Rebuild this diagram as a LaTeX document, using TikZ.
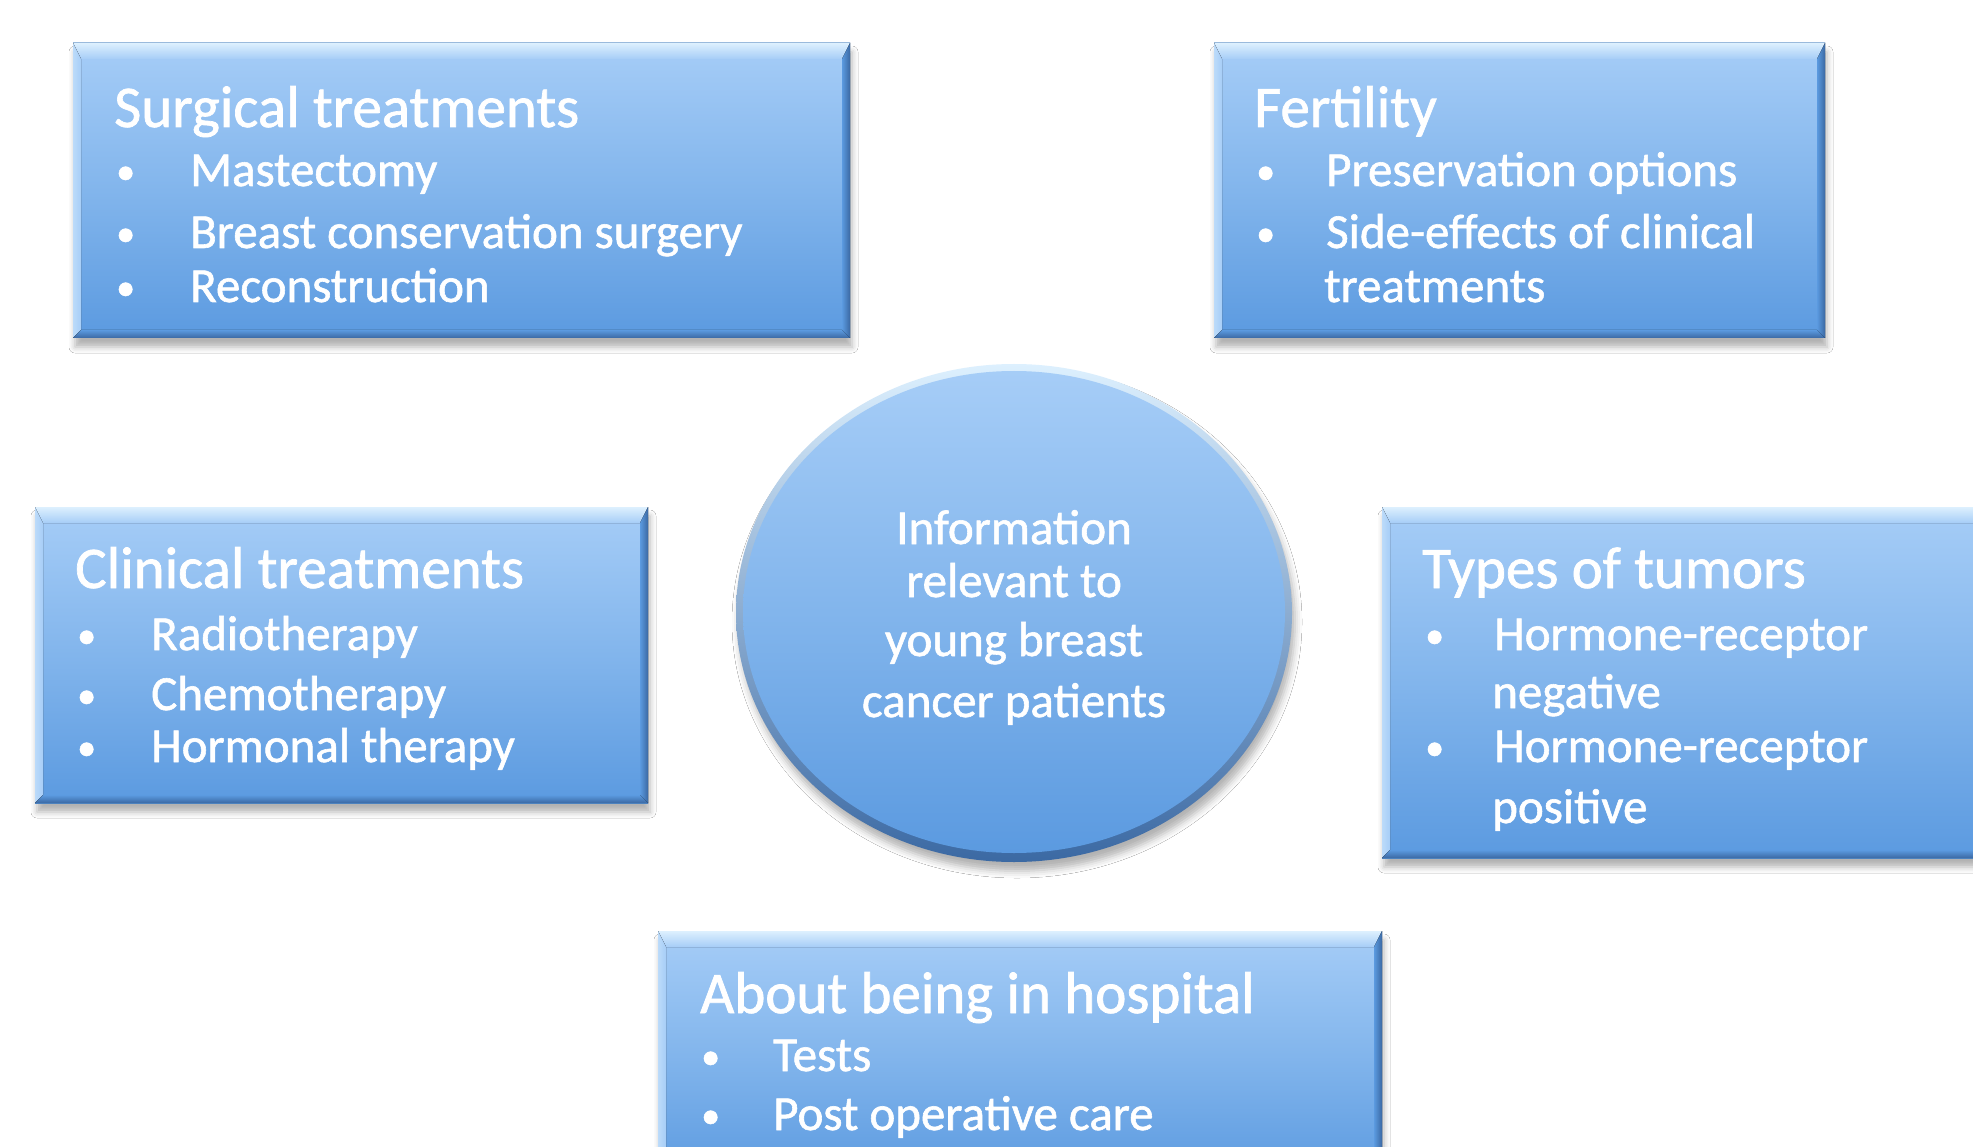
\documentclass[tikz,border=0pt]{standalone}
\usepackage{fontspec}
\setmainfont{Carlito}
\newfontfamily\pfont{Carlito}[FakeBold=1.2]
\usetikzlibrary{shapes.geometric,shadows.blur,calc}
\definecolor{btop}{HTML}{A6CDF7}
\definecolor{bmid}{HTML}{82B5EC}
\definecolor{bbot}{HTML}{5B9AE0}
\definecolor{bevlight}{HTML}{DDF0FE}
\definecolor{bevdark}{HTML}{3B69A3}
\tikzset{
  panel/.style={rectangle, draw=none, inner sep=0pt, outer sep=0pt,
    top color=btop, bottom color=bbot, middle color=bmid,
    blur shadow={shadow xshift=2pt, shadow yshift=-9pt, shadow blur radius=6pt, shadow opacity=30}},
  bevtop/.style={top color=bevlight, bottom color=btop},
  bevleft/.style={left color=btop!60!bevlight, right color=btop},
  bevright/.style={left color=bbot, right color=bevdark},
  bevbot/.style={top color=bbot, bottom color=bevdark},
  ttl/.style={anchor=base west, inner sep=0pt, text=white, font=\pfont\fontsize{59}{59}\selectfont},
  itm/.style={anchor=base west, inner sep=0pt, text=white, font=\pfont\fontsize{49}{49}\selectfont},
  bul/.style={anchor=base west, inner sep=0pt, text=white, font=\pfont\fontsize{38}{38}\selectfont},
  ctr/.style={anchor=base, inner sep=0pt, text=white, font=\pfont\fontsize{49}{49}\selectfont},
}
% name, x1, y1, x2, y2
\newcommand\drawpanel[5]{%
  \node[panel, minimum width={(#4-#2)*1pt}, minimum height={(#5-#3)*1pt}] (#1) at ({(#2+#4)/2},{(#3+#5)/2}) {};
  \fill[bevtop] (#1.north west) -- (#1.north east) -- ([shift={(-8,16)}]#1.north east) -- ([shift={(8,16)}]#1.north west) -- cycle;
  \fill[bevleft] (#1.north west) -- ([shift={(8,16)}]#1.north west) -- ([shift={(8,-8)}]#1.south west) -- (#1.south west) -- cycle;
  \fill[bevright] (#1.north east) -- ([shift={(-8,16)}]#1.north east) -- ([shift={(-8,-8)}]#1.south east) -- (#1.south east) -- cycle;
  \fill[bevbot] (#1.south west) -- ([shift={(8,-8)}]#1.south west) -- ([shift={(-8,-8)}]#1.south east) -- (#1.south east) -- cycle;
}
\begin{document}
\begin{tikzpicture}[x=1pt,y=-1pt]
\useasboundingbox[fill=white] (0,0) rectangle (1973,1147);

% panels
\drawpanel{surg}{73}{43}{850}{338}
\drawpanel{fert}{1214}{43}{1825}{338}
\drawpanel{clin}{35}{507}{648}{803}
\drawpanel{types}{1382}{507}{2000}{858}
\drawpanel{hosp}{658}{931}{1382}{1180}

% central ellipse
\node[ellipse, draw=none, minimum width=556pt, minimum height=498pt, inner sep=0pt,
  top color=bevlight, bottom color=bevdark,
  blur shadow={shadow xshift=3pt, shadow yshift=-9pt, shadow blur radius=7pt, shadow opacity=30}] (hub) at (1014,613) {};
\node[ellipse, draw=none, minimum width=542pt, minimum height=482pt, inner sep=0pt,
  top color=btop, bottom color=bbot, middle color=bmid] (hubin) at (1014,612) {};

\node[ctr] (h1) at (1014,544) {Information};
\node[ctr] (h2) at (1014,597) {relevant to};
\node[ctr] (h3) at (1014,656) {young breast};
\node[ctr] (h4) at (1014,717) {cancer patients};

% Surgical treatments
\node[ttl] (s0) at (114,127) {Surgical treatments};
\node[bul] (sb1) at (116,184) {•};
\node[itm] (s1) at (190,186) {Mastectomy};
\node[bul] (sb2) at (116,246) {•};
\node[itm] (s2) at (190,248) {Breast conservation surgery};
\node[bul] (sb3) at (116,300) {•};
\node[itm] (s3) at (190,302) {Reconstruction};

% Fertility
\node[ttl] (f0) at (1254,127) {Fertility};
\node[bul] (fb1) at (1256,184) {•};
\node[itm] (f1) at (1326,186) {Preservation options};
\node[bul] (fb2) at (1256,246) {•};
\node[itm] (f2) at (1326,248) {Side-effects of clinical};
\node[itm] (f3) at (1324,302) {treatments};

% Clinical treatments
\node[ttl] (c0) at (75,588) {Clinical treatments};
\node[bul] (cb1) at (77,648) {•};
\node[itm] (c1) at (151,650) {Radiotherapy};
\node[bul] (cb2) at (77,708) {•};
\node[itm] (c2) at (151,710) {Chemotherapy};
\node[bul] (cb3) at (77,760) {•};
\node[itm] (c3) at (151,762) {Hormonal therapy};

% Types of tumors
\node[ttl] (t0) at (1422,588) {Types of tumors};
\node[bul] (tb1) at (1425,648) {•};
\node[itm] (t1) at (1494,650) {Hormone-receptor};
\node[itm] (t2) at (1492,708) {negative};
\node[bul] (tb2) at (1425,760) {•};
\node[itm] (t3) at (1494,762) {Hormone-receptor};
\node[itm] (t4) at (1492,823) {positive};

% About being in hospital
\node[ttl] (a0) at (700,1013) {About being in hospital};
\node[bul] (ab1) at (701,1069) {•};
\node[itm] (a1) at (773,1071) {Tests};
\node[bul] (ab2) at (701,1128) {•};
\node[itm] (a2) at (773,1130) {Post operative care};
\end{tikzpicture}
\end{document}
